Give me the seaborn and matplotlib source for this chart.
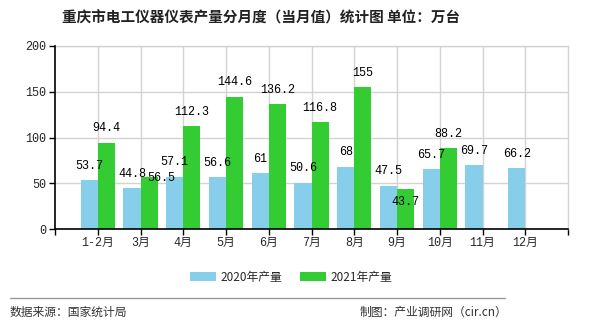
import matplotlib
matplotlib.use("Agg")
import matplotlib.pyplot as plt
import seaborn as sns
import pandas as pd
import numpy as np
from matplotlib.patches import Patch
from matplotlib.lines import Line2D

months = ["1-2月", "3月", "4月", "5月", "6月", "7月", "8月", "9月", "10月", "11月", "12月"]
prod_2020 = [53.7, 44.8, 57.1, 56.6, 61, 50.6, 68, 47.5, 65.7, 69.7, 66.2]
prod_2021 = [94.4, 56.5, 112.3, 144.6, 136.2, 116.8, 155, 43.7, 88.2, None, None]
series_names = ["2020年产量", "2021年产量"]
colors = ["#87CEEB", "#33CC33"]
y_ticks = [0, 50, 100, 150, 200]

sns.set_theme(style="white")
cjk = ["Noto Sans CJK SC", "DejaVu Sans"]
mono = ["Liberation Mono", "Noto Sans CJK SC"]
plt.rcParams["font.family"] = cjk

rows = []
for m, a, b in zip(months, prod_2020, prod_2021):
    rows.append({"month": m, "series": series_names[0], "value": a})
    rows.append({"month": m, "series": series_names[1], "value": np.nan if b is None else b})
df = pd.DataFrame(rows)

fig = plt.figure(figsize=(5.9, 3.3), dpi=100)
ax = fig.add_axes([55 / 590, 1 - 229 / 330, 513 / 590, 183 / 330])

sns.barplot(data=df, x="month", y="value", hue="series", order=months,
            hue_order=series_names, palette=colors, width=0.8, saturation=1,
            ax=ax, legend=False, zorder=3, linewidth=0)

ax.set_xlim(-1, len(months))
ax.set_ylim(0, 200)
ax.set_yticks(y_ticks)
ax.set_yticklabels([str(t) for t in y_ticks], fontfamily=mono, fontsize=8.5)
ax.set_xticks(range(len(months)))
ax.set_xticklabels(months, fontfamily=mono, fontsize=8.5)
ax.set_xticks([-1, len(months)], minor=True)
ax.tick_params(axis="both", which="both", direction="out", length=4, width=1,
               color="black", pad=2, bottom=True, left=True)
ax.set_xlabel("")
ax.set_ylabel("")

# grid
ax.grid(True, axis="both", color="#d3d3d3", linewidth=1, zorder=0)
for s in ["top", "right"]:
    ax.spines[s].set_color("#d3d3d3")
    ax.spines[s].set_linewidth(1)
for s in ["left", "bottom"]:
    ax.spines[s].set_color("black")
    ax.spines[s].set_linewidth(1.2)
    ax.spines[s].set_zorder(5)

# value labels; two of them are nudged to keep clear of neighbours
nudge = {(1, 1): (9, -11), (7, 1): (0, -20)}
for si, vals in enumerate([prod_2020, prod_2021]):
    for i, v in enumerate(vals):
        if v is None:
            continue
        x = i - 0.2 + 0.4 * si
        dx, dy = nudge.get((i, si), (0, 0))
        ax.annotate(f"{v:g}", (x, v), xytext=(dx, 6 + dy), textcoords="offset points",
                    ha="center", va="bottom", fontsize=8.5, fontfamily=mono,
                    color="black", zorder=6)

fig.text(261 / 590, 1 - 17 / 330, "重庆市电工仪器仪表产量分月度（当月值）统计图 单位：万台",
         ha="center", va="center", fontsize=10.5, fontweight="bold", color="#222222")

handles = [Patch(facecolor=c, edgecolor="none") for c in colors]
fig.legend(handles, series_names, loc="center", bbox_to_anchor=(291 / 590, 1 - 277 / 330),
           ncol=2, frameon=False, fontsize=8.5, handlelength=2.2, handleheight=0.8,
           handletextpad=0.4, columnspacing=1.5)

fig.add_artist(Line2D([10 / 590, 505 / 590], [1 - 298 / 330, 1 - 298 / 330],
                      color="#999999", linewidth=1))
fig.text(10 / 590, 1 - 312 / 330, "数据来源：国家统计局", ha="left", va="center",
         fontsize=8.5, color="#333333")
fig.text(507 / 590, 1 - 312 / 330, "制图：产业调研网（cir.cn）", ha="right", va="center",
         fontsize=8.5, color="#333333")

fig.savefig("out.png", dpi=100)
